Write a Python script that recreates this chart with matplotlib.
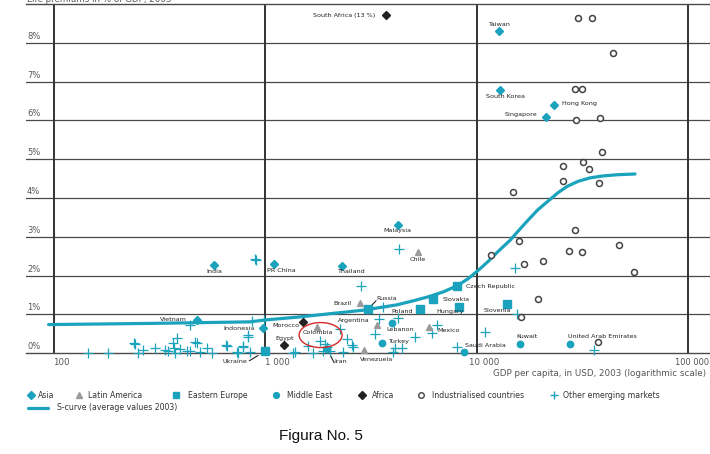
import numpy as np
import matplotlib
matplotlib.use("Agg")
import matplotlib.pyplot as plt
from matplotlib.lines import Line2D
from matplotlib.patches import Ellipse
from matplotlib.ticker import NullLocator

# ---------------- data ----------------
asia_names = ["Taiwan", "South Korea", "Hong Kong", "Singapore", "Malaysia",
              "India", "PR China", "Thailand", "Vietnam", "Indonesia"]
asia_gdp = [12700, 12900, 23300, 21300, 4250, 572, 1100, 2310, 472, 977]
asia_pct = [8.30, 6.79, 6.39, 6.10, 3.31, 2.27, 2.31, 2.25, 0.87, 0.66]

latam_names = ["Brazil", "Chile", "Colombia", "Argentina", "Mexico", "Venezuela"]
latam_gdp = [2800, 5290, 1750, 3360, 5970, 2940]
latam_pct = [1.29, 2.61, 0.69, 0.73, 0.68, 0.08]

eeu_names = ["Czech Republic", "Slovakia", "Hungary", "Poland", "Russia", "Slovenia", "Ukraine"]
eeu_gdp = [8090, 6230, 8270, 5390, 3050, 13960, 995]
eeu_pct = [1.73, 1.39, 1.20, 1.13, 1.13, 1.26, 0.05]

me_names = ["Lebanon", "Turkey", "Saudi Arabia", "Kuwait", "United Arab Emirates", "Iran"]
me_gdp = [3980, 3550, 8740, 16100, 27700, 1955]
me_pct = [0.79, 0.26, 0.03, 0.24, 0.23, 0.11]

africa_names = ["South Africa (13 %)", "Morocco", "Egypt"]
africa_gdp = [3710, 1510, 1228]
africa_pct = [8.71, 0.81, 0.22]

ind_gdp = [30300, 35000, 44300, 29200, 31400, 29500, 38400, 39300, 25700, 31800,
           33900, 25600, 37900, 14800, 29300, 15900, 47300, 27400, 31400, 11700,
           20600, 16800, 55600, 19500, 16300, 37500]
ind_pct = [8.64, 8.63, 7.74, 6.82, 6.82, 6.01, 6.06, 5.19, 4.83, 4.94,
           4.76, 4.44, 4.40, 4.15, 3.18, 2.90, 2.80, 2.64, 2.60, 2.53,
           2.39, 2.30, 2.10, 1.40, 0.94, 0.29]

oth_gdp = [144, 180, 239, 250, 264, 300, 334, 347, 366, 380, 369, 373, 394, 424,
           439, 464, 472, 490, 439, 527, 556, 650, 743, 780, 824, 861, 892, 985,
           830, 787, 731, 845, 1345, 1380, 1596, 1683, 1812, 1914, 1950, 1879,
           2019, 2253, 2423, 2559, 2600, 2336, 2820, 3610, 3450, 4253, 3300,
           4100, 4420, 4030, 5100, 6470, 6120, 8040, 10950, 15200, 15500, 36100,
           4290, 902, 241, 656]
oth_pct = [0.02, 0.02, 0.26, 0.02, 0.08, 0.13, 0.08, 0.06, 0.26, 0.39, 0.13, 0.02, 0.10, 0.06,
           0.06, 0.28, 0.26, 0.04, 0.73, 0.13, 0.02, 0.21, 0.02, 0.19, 0.43, 0.83, 2.42, 0.85,
           0.47, 0.17, 0.04, 0.04, 0.02, 0.04, 0.19, 0.02, 0.32, 0.24, 0.15, 0.06,
           0.06, 0.62, 0.36, 0.21, 0.15, 0.04, 1.74, 1.20, 0.88, 0.90, 0.51,
           0.14, 0.13, 0.04, 0.41, 0.73, 0.52, 0.17, 0.54, 2.21, 1.02, 0.08,
           2.70, 2.40, 0.24, 0.19]

curve_gdp = [94, 284, 845, 1000, 1410, 2020, 2900, 4200, 4990, 6030, 7000, 8080,
             9100, 10140, 11300, 12610, 14380, 15670, 17300, 19500, 22200, 24300,
             26800, 30200, 34400, 39600, 46100, 56200]
curve_pct = [0.74, 0.77, 0.81, 0.86, 0.93, 1.02, 1.11, 1.25, 1.35, 1.47, 1.59, 1.74,
             1.92, 2.13, 2.36, 2.62, 2.91, 3.14, 3.40, 3.70, 3.96, 4.14,
             4.30, 4.43, 4.52, 4.57, 4.60, 4.62]

x_ticks = [100, 1000, 10000, 100000]
x_tick_labels = ["100", "1 000", "10 000", "100 000"]
y_ticks = [0, 1, 2, 3, 4, 5, 6, 7, 8]

# ---------------- style ----------------
TEAL = "#1ba3bd"
GRAY_TRI = "#9a9a9a"
DARK = "#222222"
GRID = "#4a4a4a"
W, H = 710, 454

# label placement: dx, dy (pixels), ha
label_pos = {
    "Taiwan": (0, 7, "center"), "South Korea": (5, -7, "center"),
    "Hong Kong": (8, 2, "left"), "Singapore": (-9, 2, "right"),
    "Malaysia": (-1, -6, "center"), "India": (0, -6, "center"),
    "PR China": (-7, -7, "left"), "Thailand": (-5, -6, "left"),
    "Vietnam": (-10, 0, "right"), "Indonesia": (-9, -1, "right"),
    "Brazil": (-8, 0, "right"), "Chile": (0, -7, "center"),
    "Colombia": (1, -6, "center"), "Argentina": (-7, 4, "right"),
    "Mexico": (8, -4, "left"), "Venezuela": (-4, -9, "left"),
    "Czech Republic": (9, 0, "left"), "Slovakia": (9, 0, "left"),
    "Hungary": (5, -5, "right"), "Poland": (-7, -2, "right"),
    "Russia": (9, 11, "left"), "Slovenia": (4, -6, "right"),
    "Ukraine": (-18, -10, "right"), "Lebanon": (-6, -7, "left"),
    "Turkey": (6, 2, "left"), "Saudi Arabia": (1, 7, "left"),
    "Kuwait": (-4, 7, "left"), "United Arab Emirates": (-2, 8, "left"),
    "Iran": (7, -12, "left"), "South Africa (13 %)": (-10, 0, "right"),
    "Morocco": (-4, -4, "right"), "Egypt": (0, 6, "center"),
}

fig = plt.figure(figsize=(W / 100, H / 100), dpi=100)
ax = fig.add_axes([26 / W, 1 - 353.3 / H, (W - 26) / W, (353.3 - 4) / H])
ax.set_xscale("log")
xmin, xmax = 73.5, 127300
ax.set_xlim(xmin, xmax)
ax.set_ylim(0, 9)
ax.xaxis.set_major_locator(NullLocator())
ax.xaxis.set_minor_locator(NullLocator())
ax.yaxis.set_major_locator(NullLocator())
for s in ["left", "right"]:
    ax.spines[s].set_visible(False)
for s in ["top", "bottom"]:
    ax.spines[s].set_color(GRID)
    ax.spines[s].set_linewidth(1.0)

for v in y_ticks[1:]:
    ax.axhline(v, color=GRID, lw=0.9, zorder=1)
for xv in x_ticks:
    ax.axvline(xv, color="#333333", lw=1.4, zorder=1)

for v in y_ticks:
    ax.annotate(f"{v}%", xy=(0, v), xycoords=("axes fraction", "data"),
                xytext=(1, 2), textcoords="offset pixels", ha="left", va="bottom",
                fontsize=6, color="#555555")

tick_dx = [-1, 0, -8, -13]
for xv, lab, dx in zip(x_ticks, x_tick_labels, tick_dx):
    ax.annotate(lab, xy=(xv, 0), xycoords="data", xytext=(dx, -9),
                textcoords="offset pixels", ha="left", va="center",
                fontsize=6.0 if xv == 100000 else 6.2, color="#555555",
                annotation_clip=False)

fig.text(493 / W, 1 - 373 / H, "GDP per capita, in USD, 2003 (logarithmic scale)",
         ha="left", va="center", fontsize=6.3, color="#555555")
fig.text(27 / W, 1 - 2 / H, "Life premiums in % of GDP, 2003",
         ha="left", va="baseline", fontsize=6.3, color="#555555")

# S-curve
ax.plot(curve_gdp, curve_pct, color=TEAL, lw=2.3, solid_capstyle="round",
        solid_joinstyle="round", zorder=3)

common = dict(linestyle="none", zorder=4, clip_on=False)
ax.plot(oth_gdp, oth_pct, marker="+", ms=6.5, mew=0.9, color=TEAL, **common)
ax.plot(ind_gdp, ind_pct, marker="o", ms=4.3, mew=1.1, mfc="white", mec="#444444", **common)
ax.plot(asia_gdp, asia_pct, marker="D", ms=4.2, color=TEAL, mec=TEAL, **common)
ax.plot(latam_gdp, latam_pct, marker="^", ms=4.8, color=GRAY_TRI, mec=GRAY_TRI, **common)
ax.plot(eeu_gdp, eeu_pct, marker="s", ms=5.3, color=TEAL, mec=TEAL, **common)
ax.plot(me_gdp, me_pct, marker="o", ms=4.6, color=TEAL, mec=TEAL, **common)
ax.plot(africa_gdp, africa_pct, marker="D", ms=3.6, color=DARK, mec=DARK, **common)

for names, gx, py in [(asia_names, asia_gdp, asia_pct), (latam_names, latam_gdp, latam_pct),
                      (eeu_names, eeu_gdp, eeu_pct), (me_names, me_gdp, me_pct),
                      (africa_names, africa_gdp, africa_pct)]:
    for n, g, p in zip(names, gx, py):
        dx, dy, ha = label_pos[n]
        ax.annotate(n, xy=(g, p), xytext=(dx, dy), textcoords="offset pixels",
                    ha=ha, va="center", fontsize=4.6, color="#222222",
                    annotation_clip=False, zorder=6)

# leader lines
leaders = {"Ukraine": (-15.7, -9.4, 8), "Iran": (7.3, -13.7, 8), "Russia": (8.3, 8.6, 6)}
lookup = dict(zip(eeu_names + me_names, list(zip(eeu_gdp + me_gdp, eeu_pct + me_pct))))
for n, (dx, dy, sh) in leaders.items():
    g, p = lookup[n]
    ax.annotate("", xy=(g, p), xytext=(dx, dy), textcoords="offset pixels",
                arrowprops=dict(arrowstyle="-", color="#222222", lw=0.8,
                                shrinkA=0, shrinkB=sh * 0.72),
                annotation_clip=False)

# red ellipse around Colombia
lx0, lx1 = np.log10(xmin), np.log10(xmax)
cx = (np.log10(1824) - lx0) / (lx1 - lx0)
cy = 0.47 / 9
ax.add_patch(Ellipse((cx, cy), 43 / 684, 25 / 349.3, transform=ax.transAxes,
                     fill=False, ec="#d42a2a", lw=1.0, zorder=7, clip_on=False))

# legend (manual)
ly = 1 - 395 / H
items = [("Asia", "D", TEAL, TEAL, 31, 38, 3.6),
         ("Latin America", "^", GRAY_TRI, GRAY_TRI, 79, 88, 4.4),
         ("Eastern Europe", "s", TEAL, TEAL, 176, 188, 4.4),
         ("Middle East", "o", TEAL, TEAL, 276, 287, 4.2),
         ("Africa", "D", DARK, DARK, 362, 372, 3.6),
         ("Industrialised countries", "o", "white", "#444444", 421, 432, 4.0),
         ("Other emerging markets", "+", TEAL, TEAL, 554, 563, 6.0)]
for lab, m, fc, ec, mx, tx, ms in items:
    fig.add_artist(Line2D([mx / W], [ly], marker=m, ms=ms, mfc=fc, mec=ec, color=ec,
                          mew=1.0, linestyle="none", transform=fig.transFigure))
    fig.text(tx / W, ly, lab, ha="left", va="center", fontsize=5.6, color="#333333")
ly2 = 1 - 408 / H
fig.add_artist(Line2D([28 / W, 48 / W], [ly2, ly2], color=TEAL, lw=2.3,
                      solid_capstyle="round", transform=fig.transFigure))
fig.text(57 / W, ly2, "S-curve (average values 2003)", ha="left", va="center",
         fontsize=5.6, color="#333333")

fig.text(321 / W, 1 - 436 / H, "Figura No. 5", ha="center", va="center",
         fontsize=11, family=["Liberation Sans Narrow", "Liberation Sans", "DejaVu Sans"],
         color="#111111")

fig.savefig("out.png", dpi=100)
